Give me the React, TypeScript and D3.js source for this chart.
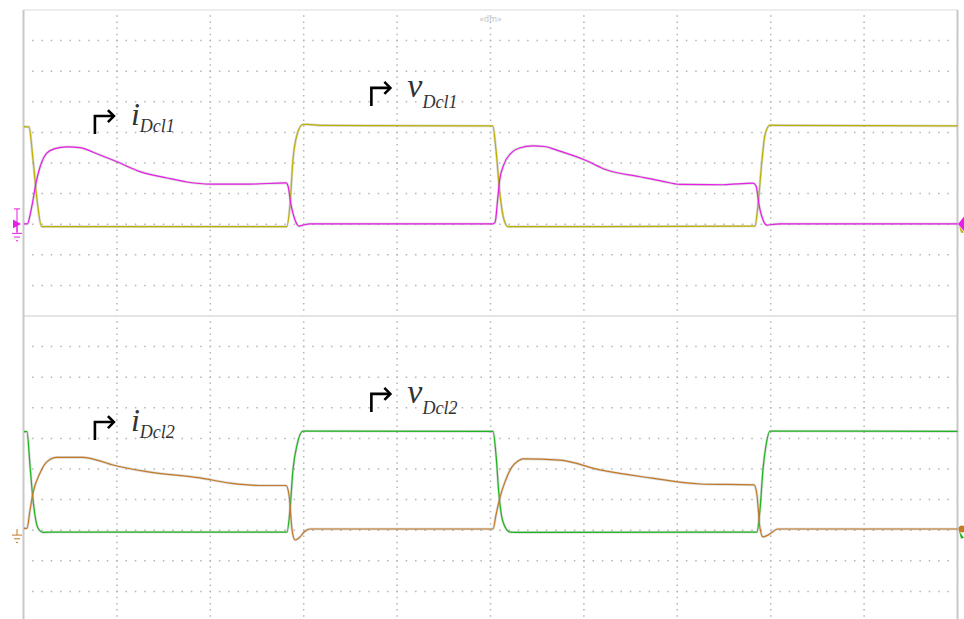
import React from "react";
import * as d3 from "d3";

// Time axis: 0..1000 across ten horizontal divisions (100 per division).
// Amplitude: 10 units per vertical division, each panel spans -50..50.
type Pt = [number, number];

const vDcl1: Pt[] = [
  [0.5, 11.9], [5.9, 11.8], [10.2, 1.0], [14.5, -12.1], [19.5, -20.8], [28.4, -20.8],
  [281.8, -20.8], [285.3, -13.7], [288.5, 1.0], [292.8, 9.2], [299.2, 12.6], [304.5, 12.6],
  [317.4, 12.3], [502.4, 12.1], [505.9, 4.2], [510.2, -10.5], [514.5, -18.6], [518.8, -20.8],
  [531.6, -20.8], [783.2, -20.6], [786.4, -13.7], [790.7, 1.0], [793.9, 9.2], [799.3, 12.4],
  [804.7, 12.3], [1000, 12.1],
];

const iDcl1: Pt[] = [
  [0.5, -19.9], [4.3, -19.9], [7.0, -17.0], [10.2, -12.1], [13.4, -6.5], [17.7, -1.3],
  [25.2, 3.3], [33.7, 4.7], [46.6, 5.3], [60.5, 5.0], [81.9, 2.6], [100.1, 0.4],
  [124.7, -2.8], [153.6, -4.9], [175.0, -6.2], [199.7, -6.9], [242.5, -6.9], [281.1, -6.5],
  [283.2, -7.5], [286.4, -13.7], [290.7, -18.6], [295.0, -20.6], [299.2, -20.3], [306.7, -19.9],
  [502.6, -19.9], [505.0, -19.3], [507.6, -12.1], [509.8, -5.6], [514.1, -0.7], [523.8, 3.7],
  [531.2, 4.9], [545.2, 5.6], [558.1, 5.4], [571.0, 4.2], [601.0, 1.0], [624.6, -2.3],
  [659.9, -4.5], [684.6, -6.0], [702.8, -7.0], [748.9, -7.1], [781.0, -6.6], [784.3, -7.5],
  [787.5, -13.7], [791.8, -18.6], [796.1, -20.3], [801.5, -20.1], [810.0, -19.9], [1000, -19.9],
];

const vDcl2: Pt[] = [
  [0.5, 12.2], [3.7, 12.2], [7.0, 1.0], [10.2, -10.1], [15.5, -19.3], [20.9, -20.7],
  [33.7, -20.6], [282.1, -20.6], [285.3, -13.4], [288.5, -0.3], [292.8, 7.8], [299.2, 12.4],
  [306.7, 12.4], [502.7, 12.3], [505.9, 4.6], [509.1, -8.5], [513.4, -17.3], [520.9, -20.6],
  [531.6, -20.7], [785.3, -20.6], [788.5, -13.4], [791.7, -0.3], [795.0, 7.8], [799.3, 12.4],
  [1000, 12.3],
];

const iDcl2: Pt[] = [
  [0.5, -19.4], [3.7, -19.4], [7.0, -13.4], [10.2, -7.8], [17.7, -1.3], [25.2, 2.4],
  [35.9, 3.8], [63.7, 3.8], [78.7, 2.9], [95.8, 1.3], [135.4, -1.0], [189.0, -2.9],
  [221.1, -4.6], [253.2, -5.4], [281.1, -5.4], [284.3, -8.5], [287.5, -19.9], [290.7, -23.2],
  [296.1, -22.2], [300.4, -20.6], [306.7, -19.6], [502.7, -19.6], [505.9, -15.0], [510.2, -9.2],
  [515.5, -4.2], [523.0, 0.7], [529.5, 2.6], [534.8, 3.3], [574.5, 2.9], [617.3, -0.3],
  [670.9, -2.9], [724.4, -4.9], [782.2, -5.2], [785.3, -8.5], [788.5, -19.3], [791.7, -22.2],
  [797.1, -21.6], [807.8, -19.6], [1000, -19.6],
];

const topLabels = [
  { base: "i", sub: "Dcl1", t: 115, v: 12.4, big: 32, dy: 7 },
  { base: "v", sub: "Dcl1", t: 411, v: 21.6, big: 34, dy: 11 },
];
const bottomLabels = [
  { base: "i", sub: "Dcl2", t: 115, v: 12.4, big: 32, dy: 7 },
  { base: "v", sub: "Dcl2", t: 411, v: 21.6, big: 34, dy: 11 },
];

const W = 964;
const H = 619;
const left = 23.5;
const right = 957.5;
const top1 = 10;
const panelH = 306;
const top2 = top1 + panelH;

const x = d3.scaleLinear().domain([0, 1000]).range([left, right]);
const yTop = d3.scaleLinear().domain([-50, 50]).range([top1 + panelH, top1]);
const yBot = d3.scaleLinear().domain([-50, 50]).range([top2 + panelH, top2]);

const lineFor = (y: d3.ScaleLinear<number, number>) =>
  d3.line<Pt>().x((d) => x(d[0])).y((d) => y(d[1])).curve(d3.curveMonotoneX);

const Trace = ({ data, y, color }: { data: Pt[]; y: d3.ScaleLinear<number, number>; color: string }) => {
  const d = lineFor(y)(data) || "";
  return (
    <g>
      <path d={d} fill="none" stroke="rgba(150,150,150,0.35)" strokeWidth={2.6} />
      <path d={d} fill="none" stroke={color} strokeWidth={1.2} />
    </g>
  );
};

const Grid = ({ y0 }: { y0: number }) => {
  const hLines = d3.range(1, 10).map((k) => y0 + (panelH / 10) * k);
  const vLines = d3.range(1, 10).map((k) => x(k * 100));
  const divX = (right - left) / 10;
  const divY = panelH / 10;
  return (
    <g stroke="#b5b5b5" strokeWidth={1.5}>
      {hLines.map((yy, i) => (
        <line key={"h" + i} x1={left + divX / 10 - 0.75} x2={right} y1={yy} y2={yy}
          strokeDasharray={`1.5 ${divX / 10 - 1.5}`} />
      ))}
      {vLines.map((xx, i) => (
        <line key={"v" + i} x1={xx} x2={xx} y1={y0 + divY / 5 - 0.75} y2={y0 + panelH}
          strokeDasharray={`1.5 ${divY / 5 - 1.5}`} />
      ))}
    </g>
  );
};

const Label = ({ l, y }: { l: typeof topLabels[number]; y: d3.ScaleLinear<number, number> }) => {
  const tx = x(l.t);
  const ty = y(l.v);
  const ax = tx - 36;
  return (
    <g>
      <path d={`M${ax},${ty + 9} V${ty - 9} H${ax + 18}`} fill="none" stroke="#000" strokeWidth={2.6} />
      <path d={`M${ax + 13},${ty - 15} L${ax + 19},${ty - 9} L${ax + 13},${ty - 3}`} fill="none" stroke="#000" strokeWidth={2.6} />
      <text x={tx} y={ty} fontFamily="Liberation Serif, Times New Roman, Times, serif" fontStyle="italic"
        fontSize={l.big} fill="#333">
        {l.base}
        <tspan fontSize={18} dy={l.dy}>{l.sub}</tspan>
      </text>
    </g>
  );
};

export default function App() {
  return (
    <svg width={W} height={H} style={{ position: "absolute", left: 0, top: 0, background: "#fff" }}>
      <rect x={0} y={0} width={W} height={H} fill="#fff" />
      <Grid y0={top1} />
      <Grid y0={top2} />
      <line x1={left} x2={right} y1={top1} y2={top1} stroke="#dcdcdc" strokeWidth={1.2} />
      <line x1={left} x2={right} y1={top2} y2={top2} stroke="#dcdcdc" strokeWidth={1.5} />
      <line x1={left} x2={left} y1={top1} y2={H} stroke="#c8c8c8" strokeWidth={2} />
      <line x1={right} x2={right} y1={top1} y2={H} stroke="#c8c8c8" strokeWidth={2} />
      <text x={x(500)} y={22} textAnchor="middle" fontFamily="DejaVu Sans, sans-serif" fontSize={8}
        fill="#c4c4c4">«dm»</text>

      <Trace data={vDcl1} y={yTop} color="#bdb200" />
      <Trace data={iDcl1} y={yTop} color="#e61ee6" />
      <Trace data={vDcl2} y={yBot} color="#1eb41e" />
      <Trace data={iDcl2} y={yBot} color="#c47a26" />

      {/* channel reference markers */}
      <g>
        <path d={`M13,${yTop(-18.5)} L21,${yTop(-19.9)} L13,${yTop(-21.3)} Z`} fill="#e61ee6" />
        <path d={`M14,${yTop(-15)} H20 M17,${yTop(-15)} V${yTop(-22.5)}`} stroke="#e61ee6" strokeWidth={1} />
        <path d={`M17,${yTop(-20.5)} V${yTop(-23)} M12,${yTop(-23)} H22 M14,${yTop(-24.2)} H20 M16,${yTop(-25.4)} H18`}
          stroke="#e61ee6" strokeWidth={1} />
        <path d={`M17,${yBot(-19.6)} V${yBot(-21.6)} M12,${yBot(-21.6)} H22 M14,${yBot(-22.8)} H20 M16,${yBot(-24)} H18`}
          stroke="#c47a26" strokeWidth={1} />
        <path d={`M958,${yTop(-19.9)} L964,${yTop(-17.5)} L964,${yTop(-22.3)} Z`} fill="#e61ee6" />
        <path d={`M959,${yTop(-20.5)} L964,${yTop(-22.8)} L961,${yTop(-22.8)} Z`} fill="#bdb200" />
        <circle cx={962} cy={yBot(-19.6)} r={3.5} fill="#c47a26" />
        <path d={`M959,${yBot(-20.3)} L964,${yBot(-22.5)} L961,${yBot(-22.8)} Z`} fill="#1eb41e" />
      </g>

      {topLabels.map((l, i) => <Label key={"t" + i} l={l} y={yTop} />)}
      {bottomLabels.map((l, i) => <Label key={"b" + i} l={l} y={yBot} />)}
    </svg>
  );
}
